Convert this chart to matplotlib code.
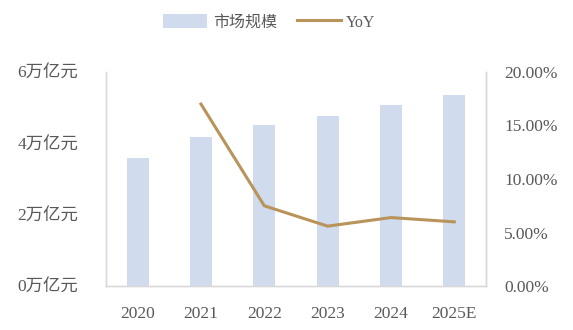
import numpy as np
import matplotlib
matplotlib.use("Agg")
import matplotlib.pyplot as plt

# ================================
# DATA
# ================================

years = ["2020", "2021", "2022", "2023", "2024", "2025E"]
market_size = [3.60, 4.19, 4.52, 4.77, 5.07, 5.35]   # 万亿元
yoy_years = ["2021", "2022", "2023", "2024", "2025E"]
yoy = [17.0, 7.5, 5.6, 6.4, 6.0]                    # %

left_ticks = [0, 2, 4, 6]
left_labels = ["0万亿元", "2万亿元", "4万亿元", "6万亿元"]
right_ticks = [0, 5, 10, 15, 20]
right_labels = ["0.00%", "5.00%", "10.00%", "15.00%", "20.00%"]

# ================================
# STYLE
# ================================

plt.rcParams['font.family'] = ['Liberation Serif', 'Noto Sans CJK SC']
text_color = "#595959"
bar_color = "#D0DCEE"
line_color = "#B8935A"
spine_color = "#D9D9D9"

fig = plt.figure(figsize=(5.73, 3.3), dpi=100)
ax = fig.add_axes([0.185, 0.133, 0.663, 0.649])
ax2 = ax.twinx()

x = np.arange(len(years))
ax.bar(x, market_size, width=0.35, color=bar_color, label="市场规模", zorder=1)

x_yoy = [years.index(y) for y in yoy_years]
ax2.plot(x_yoy, yoy, color=line_color, linewidth=2.2, label="YoY")

ax.set_xlim(-0.5, len(years) - 0.5)
ax.set_ylim(0, 6)
ax2.set_ylim(0, 20)

ax.set_xticks(x)
ax.set_xticklabels(years)
ax.set_yticks(left_ticks)
ax.set_yticklabels(left_labels)
ax2.set_yticks(right_ticks)
ax2.set_yticklabels(right_labels)

for a in (ax, ax2):
    a.tick_params(length=0, labelsize=12.5, colors=text_color)
    a.spines['top'].set_visible(False)
    for s in ('left', 'right', 'bottom'):
        a.spines[s].set_color(spine_color)
        a.spines[s].set_linewidth(1.0)

ax.tick_params(axis='x', pad=14)
ax.tick_params(axis='y', pad=20)
ax2.tick_params(axis='y', pad=13)

# ================================
# LEGEND
# ================================

h1, l1 = ax.get_legend_handles_labels()
h2, l2 = ax2.get_legend_handles_labels()
fig.legend(h1 + h2, l1 + l2, loc='upper center', bbox_to_anchor=(0.47, 1.0),
           ncol=2, frameon=False, fontsize=11.5, labelcolor=text_color,
           handlelength=2.75, handleheight=0.9, columnspacing=1.25, handletextpad=0.35)

fig.savefig("out.png", dpi=100, facecolor="white")
